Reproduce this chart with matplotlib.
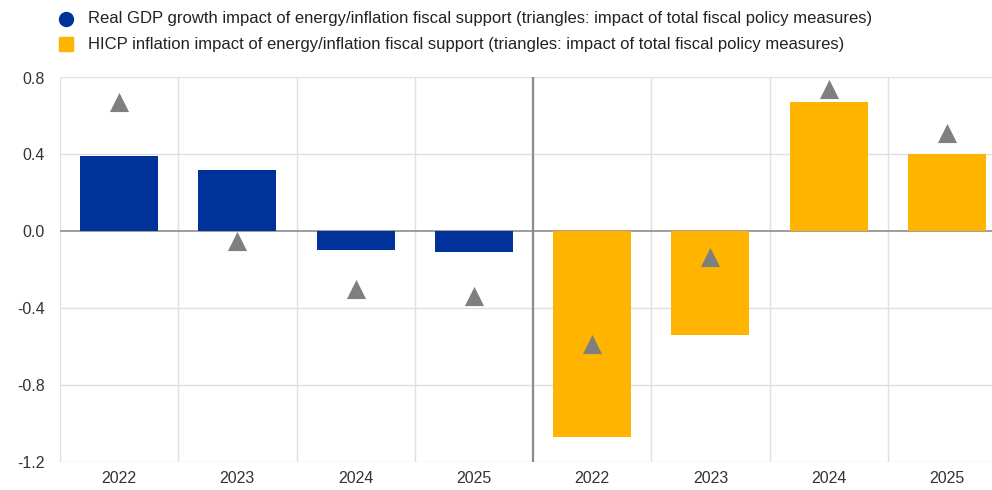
import numpy as np
import matplotlib.pyplot as plt
from matplotlib.lines import Line2D

plt.rcParams['font.family'] = ['Liberation Sans', 'DejaVu Sans']

years = ['2022', '2023', '2024', '2025', '2022', '2023', '2024', '2025']
gdp_energy = [0.39, 0.32, -0.10, -0.11]
hicp_energy = [-1.07, -0.54, 0.67, 0.40]
gdp_total = [0.67, -0.05, -0.30, -0.34]
hicp_total = [-0.59, -0.135, 0.74, 0.51]

legend_labels = [
    'Real GDP growth impact of energy/inflation fiscal support (triangles: impact of total fiscal policy measures)',
    'HICP inflation impact of energy/inflation fiscal support (triangles: impact of total fiscal policy measures)',
]

blue = '#003299'
yellow = '#ffb400'
tri_grey = '#7f7f7f'

W, H = 992, 490
fig = plt.figure(figsize=(W / 100, H / 100), dpi=100)
# axes run past the right edge, as in the source image
ax = fig.add_axes([60 / W, (H - 461.5) / H, 946 / W, 384 / H])

x = np.arange(8)
ax.bar(x[:4], gdp_energy, width=0.66, color=blue, zorder=3)
ax.bar(x[4:], hicp_energy, width=0.66, color=yellow, zorder=3)
ax.scatter(x, gdp_total + hicp_total, marker='^', s=190, color=tri_grey,
           zorder=4, linewidths=0)

ax.set_xlim(-0.5, 7.5)
ax.set_ylim(-1.2, 0.8)
ax.set_yticks([-1.2, -0.8, -0.4, 0.0, 0.4, 0.8])
ax.set_yticklabels(['-1.2', '-0.8', '-0.4', '0.0', '0.4', '0.8'])
ax.set_xticks(x)
ax.set_xticklabels(years)
ax.tick_params(length=0, labelsize=11.5, colors='#333333')
ax.tick_params(axis='x', pad=7)
ax.tick_params(axis='y', pad=11)

for s in ax.spines.values():
    s.set_visible(False)

for y in [-1.2, -0.8, -0.4, 0.4, 0.8]:
    ax.axhline(y, color='#e0e0e0', lw=1, zorder=1)
for xv in np.arange(-0.5, 8, 1.0):
    ax.axvline(xv, color='#e0e0e0', lw=1, zorder=1)
ax.axhline(0, color='#8c8c8c', lw=1.2, zorder=2)
ax.axvline(3.5, color='#8c8c8c', lw=1.6, zorder=2)

# legend drawn by hand at the top left
for i, (lab, col, mk) in enumerate(zip(legend_labels, [blue, yellow], ['o', 's'])):
    yy = 1 - (19 + 25 * i) / H
    fig.add_artist(Line2D([66 / W], [yy], marker=mk, color=col, markersize=10,
                          linestyle='none', transform=fig.transFigure))
    fig.text(88 / W, yy, lab, fontsize=12, color='#222222', va='center')

fig.savefig('out.png', dpi=100)
